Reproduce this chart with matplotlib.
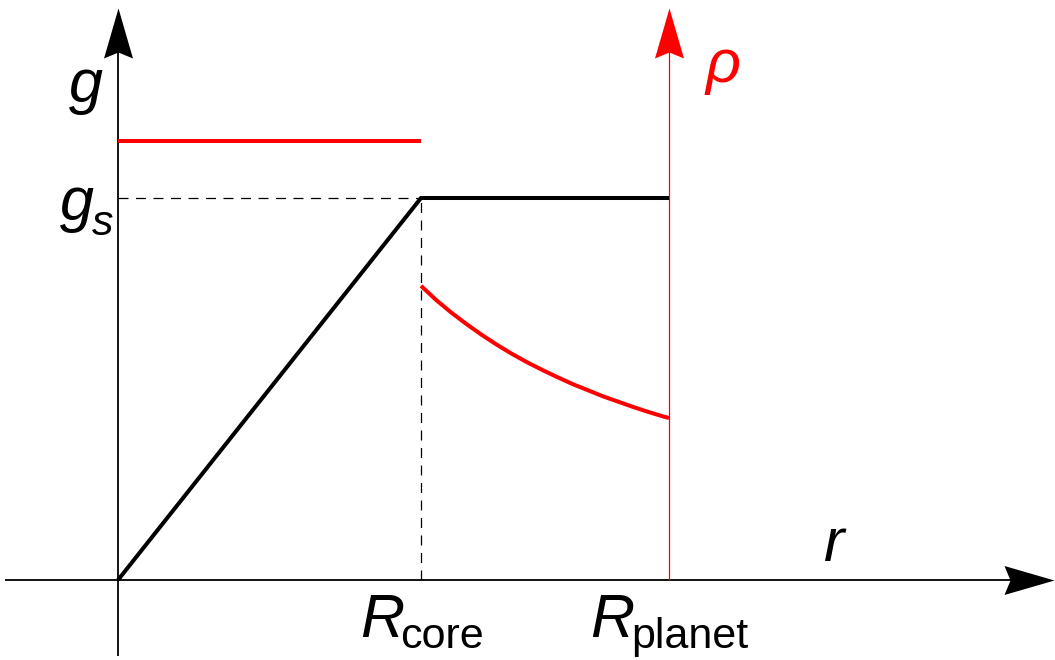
import numpy as np
import matplotlib
matplotlib.use("Agg")
import matplotlib.pyplot as plt
from matplotlib.path import Path
from matplotlib import font_manager

# ---- data (units: r in R_core, g in g_s) ----
r_core = 1.0
r_planet = 1.8185
g_surface = 1.0
rho_core = 1.15

g_r = [0.0, r_core, r_planet]
g_vals = [0.0, g_surface, g_surface]

rho_mantle_r = [1.00, 1.05, 1.10, 1.15, 1.20, 1.25, 1.30, 1.35, 1.40, 1.45,
                1.50, 1.55, 1.60, 1.65, 1.70, 1.75, 1.80, 1.8185]
rho_mantle_vals = [0.770, 0.733, 0.700, 0.670, 0.642, 0.616, 0.592, 0.570, 0.550, 0.531,
                   0.513, 0.497, 0.481, 0.467, 0.453, 0.440, 0.428, 0.424]

# ---- figure / coordinate mapping ----
W, H = 1055, 660
X0, Y0 = 118.0, 580.0      # pixel of origin
SX, SY = 303.0, 382.0      # pixels per unit

fig = plt.figure(figsize=(W / 100, H / 100), dpi=100)
ax = fig.add_axes([0, 0, 1, 1])
ax.set_xlim(-X0 / SX, (W - X0) / SX)
ax.set_ylim(-(H - Y0) / SY, Y0 / SY)
ax.axis("off")

def px(x, y):
    return (x - X0) / SX, (Y0 - y) / SY

codes = [Path.MOVETO, Path.LINETO, Path.LINETO, Path.LINETO, Path.CLOSEPOLY]
right_head = Path([(0, 0), (-1, 0.29), (-0.88, 0), (-1, -0.29), (0, 0)], codes)
up_head = Path([(0, 0), (0.29, -1), (0, -0.88), (-0.29, -1), (0, 0)], codes)
HEAD_MS = 2 * 50 * 0.72  # head length 50 px

# axes lines
xa0 = px(5, 0)[0]
xtip = px(1054, 0)[0]
ya0 = px(0, 656)[1]
ytip = px(0, 8)[1]
ax.plot([xa0, xtip - 0.1], [0, 0], color="black", lw=1.3, solid_capstyle="butt")
ax.plot([0, 0], [ya0, ytip - 0.1], color="black", lw=1.3, solid_capstyle="butt")
ax.plot([xtip], [0], marker=right_head, ms=HEAD_MS, color="black", mew=0, clip_on=False)
ax.plot([0], [ytip], marker=up_head, ms=HEAD_MS, color="black", mew=0, clip_on=False)

# red rho axis
ax.plot([r_planet, r_planet], [0, ytip - 0.1], color="red", lw=0.9, solid_capstyle="butt")
ax.plot([r_planet], [ytip], marker=up_head, ms=HEAD_MS, color="red", mew=0, clip_on=False)

# dashed guides
ax.plot([0, r_core], [g_surface, g_surface], color="black", lw=0.9, dashes=(8, 6))
ax.plot([r_core, r_core], [0, g_surface], color="black", lw=0.9, dashes=(8, 6))

# g(r)
ax.plot(g_r, g_vals, color="black", lw=2.9, solid_joinstyle="miter", solid_capstyle="butt")

# rho(r)
ax.plot([0, r_core], [rho_core, rho_core], color="red", lw=2.9, solid_capstyle="butt")
ax.plot(rho_mantle_r, rho_mantle_vals, color="red", lw=2.9, solid_capstyle="butt",
        solid_joinstyle="round")

# labels
F = "Liberation Sans"
names = {f.name for f in font_manager.fontManager.ttflist}
FN = "Liberation Sans Narrow" if "Liberation Sans Narrow" in names else "Liberation Sans"
BIG = 44
SUB = 36 if FN != "Liberation Sans" else 31
ax.text(*px(86, 102), "g", fontsize=BIG, family=F, style="italic", ha="center", va="baseline")
ax.text(*px(77, 220), "g", fontsize=BIG, family=F, style="italic", ha="center", va="baseline")
ax.text(*px(103, 235), "s", fontsize=SUB, family=FN, style="italic", ha="center", va="baseline")
ax.text(*px(723, 82), "ρ", fontsize=BIG, family=F, style="italic", color="red", ha="center", va="baseline")
ax.text(*px(834, 561), "r", fontsize=BIG, family=F, style="italic", ha="center", va="baseline")
ax.text(*px(382, 637), "R", fontsize=BIG, family=F, style="italic", ha="center", va="baseline")
ax.text(*px(400, 648), "core", fontsize=SUB, family=FN, ha="left", va="baseline")
ax.text(*px(612, 637), "R", fontsize=BIG, family=F, style="italic", ha="center", va="baseline")
ax.text(*px(631, 648), "planet", fontsize=SUB, family=FN, ha="left", va="baseline")

fig.savefig("out.png", dpi=100)
